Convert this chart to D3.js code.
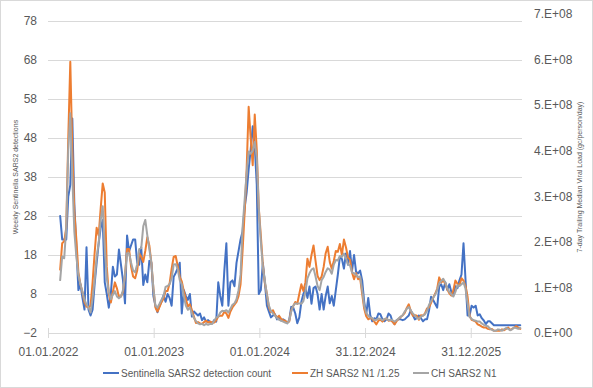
<!DOCTYPE html>
<html>
<head>
<meta charset="utf-8">
<script src="https://cdn.jsdelivr.net/npm/d3@7"></script>
<style>
  body { margin: 0; background: #fff; }
  .Chart { width: 593px; height: 388px; }
  text { font-family: "Liberation Sans", Arial, sans-serif; fill: #595959; }
</style>
</head>
<body>
<div class="Chart"></div>
<script>
// first weekly sample, one point every 7 days
const firstWeek = "12.02.2022";

const dateTicks = ["01.01.2022", "01.01.2023", "01.01.2024", "31.12.2024", "31.12.2025"];
const leftTicks = [-2, 8, 18, 28, 38, 48, 58, 68, 78];
const rightTicks = [0, 1e8, 2e8, 3e8, 4e8, 5e8, 6e8, 7e8];

const seriesNames = ["Sentinella SARS2 detection count", "ZH SARS2 N1 /1.25", "CH SARS2 N1"];

// weekly detections (left axis)
const sentinella = [
  28, 22, 22, 22, 33, 36, 53, 31, 20, 9,
  10.5, 7, 4, 20, 4, 2.5, 4, 10.5, 16, 21,
  25, 27, 11, 8, 4.5, 8, 15, 12.5, 13, 19.4,
  15.5, 11.5, 5.6, 23, 19, 20.5, 22, 22, 16, 15.5,
  20, 10.3, 13, 11, 16.5, 16, 7.5, 5, 3.3, 5,
  6, 7.7, 6, 8, 7, 5, 12.4, 13.4, 14.6, 16,
  3, 9, 7.5, 6.5, 8, 2.2, 3.5, 3, 2.5, 3,
  1.3, 2, 0.9, 1.3, 0.8, 0.5, 1.3, 0.9, 11, 7.5,
  5, 14, 21, 5, 11, 11.5, 10, 16, 19, 22,
  24, 30, 34, 40, 45, 51, 46, 36, 8, 9,
  16, 11, 5, 3.5, 2, 2.5, 2.8, 1.5, 2.2, 1.2,
  1.5, 1.2, 0.5, 1.3, 4.7, 4.5, 3, 0.5, 2, 6,
  8, 9.5, 7, 9.9, 5.5, 9.5, 9.9, 8, 4, 8,
  4, 7.5, 9.9, 5.6, 7.5, 5, 9, 13, 17.5, 17,
  14.5, 18.4, 15.5, 19, 14, 18, 13.7, 13.3, 14, 11.5,
  6, 2.8, 7, 2.5, 1, 1.8, 1.5, 3, 2.8, 1.5,
  1, 1.5, 3, 2.5, 0.9, 0.3, 1.3, 1.5, 1.5, 1.3,
  1.5, 2, 2.5, 3.8, 2.6, 1.5, 1.8, 2.5, 1.8, 1,
  1.5, 1.5, 3.8, 7.3, 6.5, 5.5, 4.5, 9.9, 10.5, 9,
  11, 9, 10.5, 8.5, 8, 10, 9.5, 11.5, 13, 21,
  11.6, 2.5, 2.5, 5, 4.5, 5, 2.5, 2.8, 1.8, 1.2,
  0.3, 1, 1, 0.5, 0, 0, 0, 0, 0, 0,
  0, 0, 0, 0, 0, 0, 0, 0
];

// viral load in 1e8 gc/person/day (right axis)
const zhN1 = [
  1.39, 1.97, 2.01, 2.31, 4.28, 5.95, 4.02, 2.65, 2.05, 1.33,
  1.07, 0.90, 0.68, 0.58, 0.56, 0.60, 1.11, 1.75, 2.31, 2.14,
  2.74, 3.28, 3.08, 1.45, 0.86, 0.67, 0.90, 1.11, 0.98, 0.79,
  0.80, 0.90, 1.28, 1.84, 1.84, 1.45, 1.24, 1.20, 1.37, 1.75,
  1.67, 1.56, 1.80, 2.10, 1.92, 1.54, 0.98, 0.56, 0.47, 0.57,
  0.68, 0.75, 0.92, 0.92, 1.09, 1.41, 1.67, 1.69, 1.47, 1.23,
  1.13, 0.92, 0.75, 0.58, 0.63, 0.50, 0.36, 0.22, 0.24, 0.21,
  0.20, 0.24, 0.27, 0.23, 0.25, 0.23, 0.23, 0.28, 0.36, 0.38,
  0.38, 0.47, 0.43, 0.33, 0.47, 0.56, 0.62, 0.68, 0.81, 1.07,
  1.80, 2.63, 3.59, 4.96, 4.28, 3.68, 4.79, 4.02, 2.74, 2.14,
  1.50, 1.09, 0.86, 0.56, 0.46, 0.50, 0.39, 0.34, 0.38, 0.31,
  0.28, 0.27, 0.23, 0.25, 0.50, 0.59, 0.68, 0.64, 0.86, 1.07,
  0.92, 1.11, 1.63, 1.45, 1.71, 1.92, 1.58, 1.25, 1.16, 1.24,
  1.45, 1.75, 1.89, 1.56, 1.41, 1.58, 1.80, 1.78, 1.95, 1.71,
  2.05, 1.88, 1.66, 1.61, 1.33, 1.18, 1.31, 1.18, 1.20, 0.86,
  0.53, 0.37, 0.30, 0.33, 0.31, 0.25, 0.19, 0.27, 0.29, 0.25,
  0.30, 0.32, 0.27, 0.28, 0.25, 0.19, 0.26, 0.31, 0.35, 0.39,
  0.44, 0.55, 0.63, 0.48, 0.38, 0.39, 0.38, 0.29, 0.39, 0.38,
  0.43, 0.54, 0.56, 0.66, 0.77, 0.86, 0.97, 1.22, 1.11, 1.15,
  1.09, 0.96, 0.87, 0.82, 0.94, 1.15, 1.08, 1.04, 1.20, 1.15,
  1.03, 0.80, 0.38, 0.29, 0.27, 0.25, 0.19, 0.17, 0.14, 0.12,
  0.12, 0.09, 0.08, 0.09, 0.05, 0.05, 0.05, 0.05, 0.08, 0.06,
  0.09, 0.12, 0.07, 0.09, 0.12, 0.15, 0.12, 0.09
];

const chN1 = [
  1.16, 1.68, 1.64, 2.31, 4.02, 4.82, 3.42, 2.22, 1.67, 1.27,
  1.07, 0.90, 0.73, 0.62, 0.56, 0.45, 0.77, 1.16, 1.67, 1.97,
  2.48, 2.78, 1.88, 1.20, 0.90, 0.74, 0.84, 0.92, 0.80, 0.76,
  0.80, 0.94, 1.28, 1.75, 1.75, 1.54, 1.37, 1.33, 1.51, 1.84,
  1.86, 2.34, 2.48, 2.14, 1.84, 1.54, 0.98, 0.60, 0.56, 0.64,
  0.73, 0.81, 1.01, 1.03, 1.07, 1.20, 1.50, 1.51, 1.40, 1.16,
  1.07, 0.81, 0.60, 0.51, 0.56, 0.43, 0.33, 0.26, 0.21, 0.19,
  0.20, 0.17, 0.20, 0.18, 0.20, 0.20, 0.27, 0.34, 0.36, 0.45,
  0.49, 0.48, 0.50, 0.45, 0.53, 0.62, 0.65, 0.74, 0.94, 1.28,
  2.31, 2.91, 3.51, 3.98, 3.93, 4.00, 4.19, 3.85, 2.74, 2.01,
  1.45, 1.14, 0.84, 0.60, 0.48, 0.43, 0.38, 0.33, 0.29, 0.27,
  0.25, 0.23, 0.21, 0.27, 0.47, 0.60, 0.65, 0.64, 0.65, 0.64,
  0.70, 0.90, 1.20, 1.31, 1.39, 1.42, 1.24, 1.03, 0.94, 1.16,
  1.23, 1.34, 1.42, 1.39, 1.30, 1.50, 1.60, 1.59, 1.69, 1.67,
  1.74, 1.64, 1.51, 1.48, 1.33, 1.31, 1.27, 1.23, 1.24, 0.94,
  0.60, 0.44, 0.38, 0.34, 0.33, 0.28, 0.29, 0.32, 0.31, 0.28,
  0.31, 0.32, 0.28, 0.29, 0.28, 0.25, 0.28, 0.32, 0.36, 0.39,
  0.47, 0.53, 0.57, 0.49, 0.43, 0.38, 0.33, 0.31, 0.36, 0.38,
  0.41, 0.49, 0.62, 0.70, 0.77, 0.84, 0.94, 1.09, 1.14, 1.19,
  1.11, 0.98, 0.90, 0.85, 0.80, 0.90, 1.05, 1.03, 1.07, 1.11,
  0.97, 0.65, 0.35, 0.31, 0.28, 0.27, 0.25, 0.25, 0.21, 0.18,
  0.16, 0.15, 0.10, 0.07, 0.05, 0.05, 0.08, 0.07, 0.05, 0.08,
  0.11, 0.09, 0.06, 0.08, 0.12, 0.11, 0.09, 0.11
];

const colors = ["#4472C4", "#ED7D31", "#A5A5A5"];

function createChart() {
  const svgWidth = 593;
  const svgHeight = 388;
  const plot = { left: 48, right: 522, top: 21, bottom: 333 };

  const parseDate = d3.timeParse("%d.%m.%Y");
  const start = parseDate(firstWeek);
  const weekDate = (i) => d3.timeDay.offset(start, 7 * i);

  const xScale = d3
    .scaleTime()
    .domain([parseDate("01.01.2022"), parseDate("26.06.2026")])
    .range([plot.left, plot.right]);

  const yLeft = d3.scaleLinear().domain([-2, 78]).range([plot.bottom, plot.top]);
  // right axis: 7.E+08 label sits just above the plot top
  const yRight = d3.scaleLinear().domain([0, 6.842e8]).range([plot.bottom, plot.top]);

  const svg = d3
    .select(".Chart")
    .append("svg")
    .attr("width", svgWidth)
    .attr("height", svgHeight);

  // outer border
  svg
    .append("rect")
    .attr("x", 0.5)
    .attr("y", 0.5)
    .attr("width", svgWidth - 1)
    .attr("height", svgHeight - 1)
    .attr("fill", "#fff")
    .attr("stroke", "#d9d9d9");

  // gridlines
  svg
    .selectAll(".grid")
    .data(leftTicks)
    .enter()
    .append("line")
    .attr("class", "grid")
    .attr("x1", plot.left)
    .attr("x2", plot.right)
    .attr("y1", (d) => Math.round(yLeft(d)) + 0.5)
    .attr("y2", (d) => Math.round(yLeft(d)) + 0.5)
    .attr("stroke", "#d9d9d9")
    .attr("stroke-width", 1);

  // left axis
  const leftAxis = svg
    .append("g")
    .attr("transform", `translate(${plot.left},0)`)
    .call(d3.axisLeft(yLeft).tickValues(leftTicks).tickSize(0).tickPadding(11));
  leftAxis.select(".domain").remove();
  leftAxis.selectAll("text").style("font-size", "12px").attr("fill", "#595959");

  // right axis
  const rightAxis = svg
    .append("g")
    .attr("transform", `translate(${plot.right},0)`)
    .call(
      d3
        .axisRight(yRight)
        .tickValues(rightTicks)
        .tickSize(0)
        .tickPadding(12)
        .tickFormat((d) => (d === 0 ? "0.E+00" : `${d / 1e8}.E+08`))
    );
  rightAxis.select(".domain").remove();
  rightAxis.selectAll("text").style("font-size", "12px").attr("fill", "#595959");

  // bottom axis
  const xAxis = svg
    .append("g")
    .attr("transform", `translate(0,${plot.bottom})`)
    .call(
      d3
        .axisBottom(xScale)
        .tickValues(dateTicks.map(parseDate))
        .tickSize(5)
        .tickPadding(9)
        .tickFormat(d3.timeFormat("%d.%m.%Y"))
    );
  xAxis.select(".domain").remove();
  xAxis.selectAll(".tick line").attr("y1", -5).attr("stroke", "#d9d9d9");
  xAxis.selectAll("text").style("font-size", "12px").attr("fill", "#595959");

  // axis titles
  svg
    .append("text")
    .attr("transform", `translate(18,${(plot.top + plot.bottom) / 2}) rotate(-90)`)
    .attr("text-anchor", "middle")
    .style("font-size", "7px")
    .text("Weekly Sentinella SARS2 detections");

  svg
    .append("text")
    .attr("transform", `translate(582,${(plot.top + plot.bottom) / 2}) rotate(-90)`)
    .attr("text-anchor", "middle")
    .style("font-size", "7px")
    .text("7-day Trailing Median Viral Load (gc/person/day)");

  // lines
  const leftLine = d3
    .line()
    .x((d, i) => xScale(weekDate(i)))
    .y((d) => yLeft(d));

  const rightLine = d3
    .line()
    .x((d, i) => xScale(weekDate(i)))
    .y((d) => yRight(d * 1e8));

  const drawn = [
    { values: sentinella, line: leftLine },
    { values: zhN1, line: rightLine },
    { values: chN1, line: rightLine },
  ];

  drawn.forEach((s, index) => {
    svg
      .append("path")
      .datum(s.values)
      .attr("class", `line line-${index}`)
      .attr("d", s.line)
      .attr("fill", "none")
      .attr("stroke", colors[index])
      .attr("stroke-width", 2)
      .attr("stroke-linejoin", "round")
      .attr("stroke-linecap", "round");
  });

  // legend
  const legendX = [103, 292, 413];
  const legend = svg
    .selectAll(".legend-item")
    .data(seriesNames)
    .enter()
    .append("g")
    .attr("class", "legend-item")
    .attr("transform", (d, i) => `translate(${legendX[i]},373)`);

  legend
    .append("line")
    .attr("x1", 0)
    .attr("x2", 16)
    .attr("stroke", (d, i) => colors[i])
    .attr("stroke-width", 2);

  legend
    .append("text")
    .attr("x", 18)
    .attr("dy", "0.35em")
    .style("font-size", "10px")
    .text((d) => d);
}

createChart();
</script>
</body>
</html>
